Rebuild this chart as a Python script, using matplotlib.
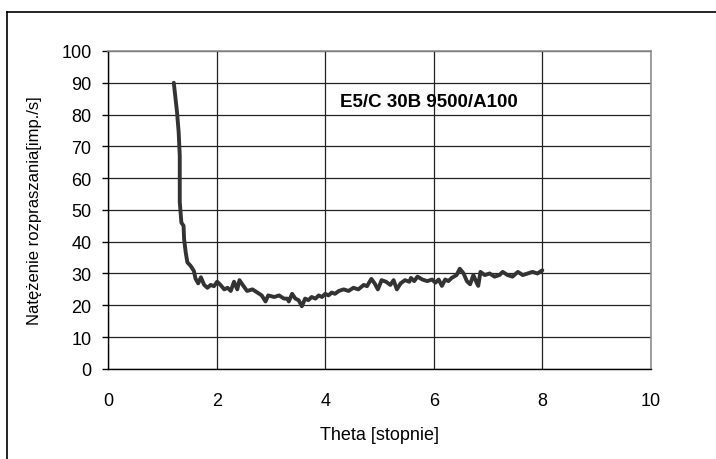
import matplotlib
matplotlib.use('Agg')
import matplotlib.pyplot as plt
from matplotlib.lines import Line2D

# Kat theta [stopnie] i natezenie [imp./s]
theta = [1.21, 1.27, 1.30, 1.32, 1.32, 1.35, 1.39, 1.40, 1.43, 1.46, 1.52, 1.58,
         1.61, 1.66, 1.71, 1.77, 1.83, 1.89, 1.95, 2.01, 2.07, 2.14, 2.20, 2.26,
         2.32, 2.38, 2.42, 2.48, 2.56, 2.66, 2.75, 2.83, 2.90, 2.95, 3.06, 3.15,
         3.24, 3.30, 3.33, 3.39, 3.45, 3.51, 3.57, 3.63, 3.69, 3.75, 3.82, 3.88,
         3.94, 4.00, 4.06, 4.12, 4.18, 4.25, 4.34, 4.43, 4.52, 4.61, 4.71, 4.77,
         4.85, 4.91, 4.97, 5.04, 5.12, 5.20, 5.26, 5.32, 5.39, 5.47, 5.55, 5.58,
         5.64, 5.70, 5.79, 5.88, 5.97, 6.03, 6.09, 6.15, 6.21, 6.27, 6.33, 6.42,
         6.48, 6.55, 6.61, 6.67, 6.73, 6.79, 6.82, 6.86, 6.94, 7.03, 7.12, 7.21,
         7.27, 7.36, 7.45, 7.55, 7.64, 7.73, 7.82, 7.91, 8.00]
intensity = [90.0, 80.7, 74.4, 67.0, 52.5, 46.0, 45.0, 40.8, 36.6, 33.5, 32.4, 30.8,
             28.4, 26.9, 28.8, 26.4, 25.5, 26.4, 26.0, 27.4, 26.4, 25.0, 25.5, 24.5,
             27.4, 25.0, 27.9, 26.4, 24.5, 25.0, 24.0, 23.1, 21.2, 23.1, 22.6, 23.1,
             22.1, 22.1, 21.2, 23.6, 22.1, 21.6, 19.7, 22.1, 21.6, 22.6, 22.1, 23.1,
             22.6, 23.6, 23.1, 24.0, 23.6, 24.5, 25.0, 24.5, 25.5, 25.0, 26.4, 26.0,
             28.3, 26.9, 25.0, 27.9, 27.4, 26.4, 27.9, 25.0, 26.9, 27.9, 27.4, 28.6,
             27.6, 29.0, 28.1, 27.6, 28.1, 27.1, 28.1, 26.1, 28.1, 27.6, 28.6, 29.5,
             31.5, 30.0, 27.6, 26.6, 29.5, 27.1, 26.1, 30.5, 29.5, 30.0, 29.0, 29.5,
             30.5, 29.5, 29.0, 30.5, 29.5, 30.0, 30.5, 30.0, 31.0]

x_ticks = [0, 2, 4, 6, 8, 10]
y_ticks = [0, 10, 20, 30, 40, 50, 60, 70, 80, 90, 100]


def main():
    plt.rcParams['font.family'] = ['Liberation Sans', 'DejaVu Sans']
    plt.rcParams['font.size'] = 13

    fig = plt.figure(figsize=(7.16, 4.6), dpi=100)
    ax = fig.add_axes([0.151, 0.196, 0.758, 0.691])

    ax.plot(theta, intensity, color='#333333', linewidth=2.8,
            solid_joinstyle='round', solid_capstyle='round')

    ax.set_xlim(0, 10)
    ax.set_ylim(0, 100)
    ax.set_xticks(x_ticks)
    ax.set_yticks(y_ticks)
    ax.grid(True, color='#222222', linewidth=0.9)
    ax.set_axisbelow(True)

    ax.tick_params(axis='y', direction='out', length=4, width=1, pad=8)
    ax.tick_params(axis='x', direction='out', length=0, pad=17)

    for side in ['top', 'right']:
        ax.spines[side].set_color('#909090')
        ax.spines[side].set_linewidth(1.2)
    for side in ['left', 'bottom']:
        ax.spines[side].set_color('black')
        ax.spines[side].set_linewidth(1.0)

    ax.set_xlabel('Theta [stopnie]', labelpad=12)
    ax.set_ylabel('Natężenie rozpraszania[imp./s]', fontsize=12, labelpad=14)

    ax.text(4.27, 82.8, 'E5/C 30B 9500/A100', fontsize=13.5, fontweight='bold',
            va='baseline')

    # ramka wokol calego wykresu
    fig.add_artist(Line2D([0.0098, 1.0], [0.972, 0.972], transform=fig.transFigure,
                          color='black', linewidth=1.2))
    fig.add_artist(Line2D([0.0098, 0.0098], [0.0, 0.972], transform=fig.transFigure,
                          color='black', linewidth=1.2))

    fig.savefig('out.png', dpi=100)


if __name__ == '__main__':
    main()
